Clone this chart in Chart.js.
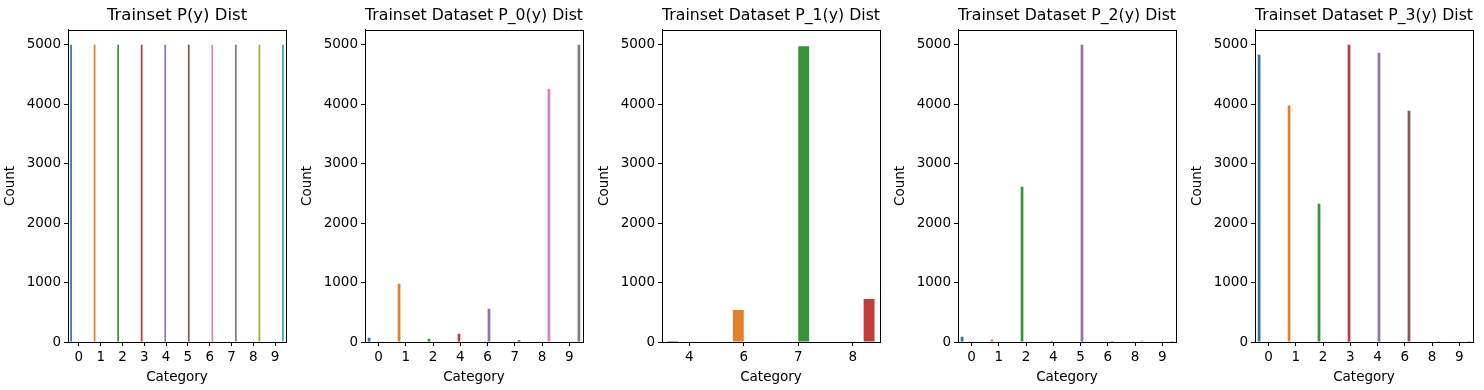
<!DOCTYPE html>
<html><head><meta charset="utf-8">
<script src="https://cdn.jsdelivr.net/npm/chart.js@4"></script>
<style>
html,body{margin:0;padding:0;background:#fff;width:1484px;height:390px;overflow:hidden;position:relative}
canvas{position:absolute;top:0}
</style></head><body>
<canvas id="c0" width="297" height="390" style="left:0px"></canvas>
<canvas id="c1" width="297" height="390" style="left:297px"></canvas>
<canvas id="c2" width="297" height="390" style="left:594px"></canvas>
<canvas id="c3" width="297" height="390" style="left:890px"></canvas>
<canvas id="c4" width="297" height="390" style="left:1187px"></canvas>
<script>
// ---- data ----
const titles = ['Trainset P(y) Dist','Trainset Dataset P_0(y) Dist','Trainset Dataset P_1(y) Dist','Trainset Dataset P_2(y) Dist','Trainset Dataset P_3(y) Dist'];
const catsP  = ['0','1','2','3','4','5','6','7','8','9'];
const countsP = [5000,5000,5000,5000,5000,5000,5000,5000,5000,5000];
const catsP0 = ['0','1','2','4','6','7','8','9'];
const countsP0 = [70,980,55,140,560,35,4260,5000];
const catsP1 = ['4','6','7','8'];
const countsP1 = [1,540,4975,725];
const catsP2 = ['0','1','2','4','5','6','8','9'];
const countsP2 = [90,40,2610,1,5000,1,20,1];
const catsP3 = ['0','1','2','3','4','6','8','9'];
const countsP3 = [4830,3975,2325,5000,4865,3890,1,1];
const yTicks = [0,1000,2000,3000,4000,5000];
const yMax = 5250;
const palette = ['#3274a1','#e1812c','#3a923a','#c03d3e','#9372b2','#845b53','#d684bd','#7f7f7f','#a9aa35','#2eabb8'];

const panels = [[catsP,countsP],[catsP0,countsP0],[catsP1,countsP1],[catsP2,countsP2],[catsP3,countsP3]];

Chart.defaults.color = '#000';
Chart.defaults.font.family = '"DejaVu Sans", sans-serif';

const boxPlugin = {
  id:'box',
  afterDraw(chart){
    const a = chart.chartArea, ctx = chart.ctx;
    ctx.save();
    ctx.strokeStyle = '#000'; ctx.lineWidth = 1;
    ctx.strokeRect(Math.round(a.left)+0.5, Math.round(a.top)+0.5, Math.round(a.right)-Math.round(a.left), Math.round(a.bottom)-Math.round(a.top));
    ctx.restore();
  }
};

panels.forEach(([cats,counts],k)=>{
  const datasets = cats.map((c,i)=>({
    label:c,
    data: cats.map((_,j)=> j===i ? counts[i] : null),
    backgroundColor: palette[i],
    borderWidth:0,
    categoryPercentage:0.8,
    barPercentage:1.0
  }));
  new Chart(document.getElementById('c'+k), {
    type:'bar',
    data:{labels:cats, datasets},
    options:{
      responsive:false, animation:false, devicePixelRatio:1,
      layout:{padding:{left:0,right:11,top:0,bottom:0}},
      plugins:{
        legend:{display:false}, tooltip:{enabled:false},
        title:{display:true, fullSize:false, align:'center', text:titles[k], color:'#000', font:{size:16.5, weight:'normal'}, padding:{top:6,bottom:4}}
      },
      scales:{
        x:{
          offset:true,
          grid:{display:true, offset:false, drawOnChartArea:false, drawTicks:true, tickLength:4, color:'#000'},
          border:{display:true, color:'#000'},
          ticks:{font:{size:13.5}, padding:3, maxRotation:0, autoSkip:false},
          title:{display:true, text:'Category', font:{size:13.5}, padding:{top:0,bottom:4.5}},
          afterFit(s){ s.height = 48; }
        },
        y:{
          min:0, max:yMax,
          grid:{display:true, drawOnChartArea:false, drawTicks:true, tickLength:4, color:'#000'},
          border:{display:true, color:'#000'},
          ticks:{font:{size:13.5}, padding:3, callback:(v)=>String(v)},
          afterBuildTicks(s){ s.ticks = yTicks.map(v=>({value:v})); },
          title:{display:true, text:'Count', font:{size:13.5}, padding:{top:2.5,bottom:0}},
          afterFit(s){ s.width = 68; }
        }
      }
    },
    plugins:[boxPlugin]
  });
});
</script>
</body></html>
